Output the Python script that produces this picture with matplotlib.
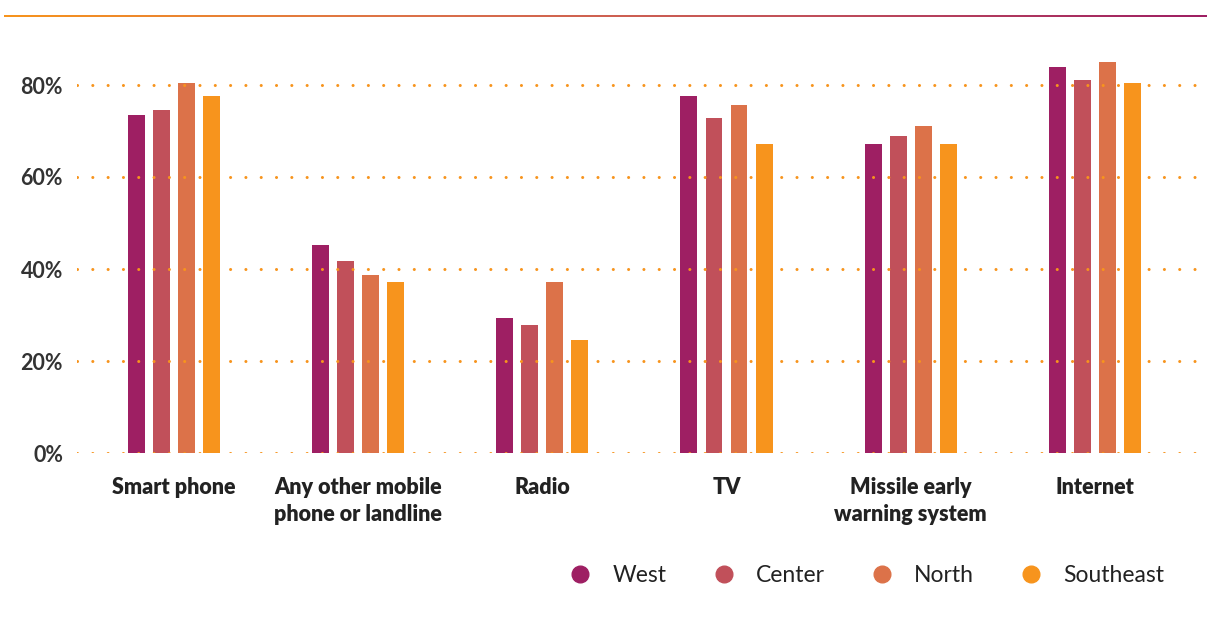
import numpy as np
import matplotlib
matplotlib.use("Agg")
import matplotlib.pyplot as plt
from matplotlib.lines import Line2D
from matplotlib.colors import LinearSegmentedColormap

categories = [
    "Smart phone",
    "Any other mobile\nphone or landline",
    "Radio",
    "TV",
    "Missile early\nwarning system",
    "Internet",
]
regions = ["West", "Center", "North", "Southeast"]
west = [73.5, 45.2, 29.3, 77.6, 67.2, 83.9]
center = [74.6, 41.7, 27.8, 72.8, 68.9, 81.1]
north = [80.4, 38.7, 37.2, 75.7, 71.1, 85.0]
southeast = [77.6, 37.2, 24.6, 67.2, 67.2, 80.4]
colors = ["#9E1F63", "#C1505A", "#DC7249", "#F7941D"]
yticks = [0, 20, 40, 60, 80]

plt.rcParams["font.family"] = ["Lato", "DejaVu Sans"]

fig = plt.figure(figsize=(12.07, 6.25), dpi=100)
ax = fig.add_axes([0.0638, 0.2752, 0.9302, 0.6624])

x = np.arange(len(categories))
step = 0.136
width = 0.092
for i, (vals, col) in enumerate(zip([west, center, north, southeast], colors)):
    ax.bar(x + (i - 1.5) * step, vals, width=width, color=col, zorder=1)

ax.set_xlim(-0.527, 5.57)
ax.set_ylim(0, 90)
ax.set_yticks(yticks)
ax.set_yticklabels([f"{v}%" for v in yticks])
ax.set_xticks(x)
ax.set_xticklabels(categories, fontsize=15.5, fontweight="heavy",
                   color="#222222", linespacing=1.35, va="top")
ax.tick_params(axis="x", length=0, pad=17)
ax.tick_params(axis="y", length=0, pad=10, labelsize=15.5, labelcolor="#333333")
for lab in ax.get_yticklabels():
    lab.set_fontweight("bold")

for s in ax.spines.values():
    s.set_visible(False)

ax.set_axisbelow(False)
ax.grid(axis="y", color="#F7941D", linewidth=2.2,
        linestyle=(0, (0.01, 5)), dash_capstyle="round", zorder=3)
ax.grid(axis="x", visible=False)

# gradient line across the top
lax = fig.add_axes([0.0035, 0.972, 0.9965, 0.0045])
grad = np.linspace(0, 1, 512).reshape(1, -1)
cmap = LinearSegmentedColormap.from_list(
    "topline", ["#F7941D", "#DC7249", "#C1505A", "#9E1F63"])
lax.imshow(grad, aspect="auto", cmap=cmap)
lax.axis("off")

handles = [
    Line2D([], [], marker="o", linestyle="none", markersize=12,
           markerfacecolor=c, markeredgecolor=c)
    for c in colors
]
fig.legend(handles, regions, loc="center", bbox_to_anchor=(0.718, 0.079),
           ncol=4, frameon=False, fontsize=16.5, handlelength=1.0,
           handletextpad=0.9, columnspacing=2.0, labelcolor="#222222")

fig.savefig("out.png", dpi=100)
plt.close(fig)
